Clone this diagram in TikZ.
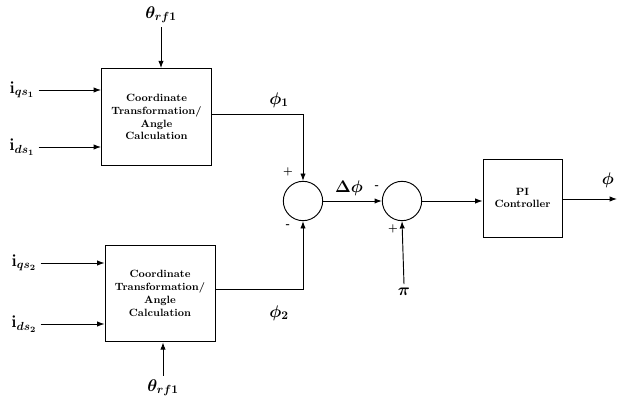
\documentclass[tikz,border=0pt]{standalone}
\usepackage{amsmath}
\usetikzlibrary{arrows.meta}
\begin{document}
\begin{tikzpicture}[x=0.03cm,y=-0.03cm,
  blk/.style={draw,line width=0.8pt,minimum width=3.3cm,minimum height=2.9cm,align=center,font=\small\bfseries,inner sep=1pt},
  pib/.style={draw,line width=0.8pt,minimum width=2.37cm,minimum height=2.34cm,align=center,font=\small\bfseries},
  sumc/.style={draw,circle,line width=0.8pt,minimum size=1.18cm,inner sep=0pt},
  lbl/.style={font=\Large\boldmath},
  sgn/.style={font=\small\bfseries},
  conn/.style={line width=0.8pt,-{Latex[length=2.2mm,width=1.6mm]}},
  wire/.style={line width=0.8pt}]
\useasboundingbox (0,0) rectangle (621,400);
% blocks
\node[blk] (b1) at (156.5,117) {Coordinate\\Transformation/\\Angle\\Calculation};
\node[blk] (b2) at (160,293.5) {Coordinate\\Transformation/\\Angle\\Calculation};
\node[sumc] (s1) at (303,201) {};
\node[sumc] (s2) at (402,201) {};
\node[pib] (pi) at (522.5,198) {PI\\Controller};
% input labels
\node[lbl] (iq1) at (22,90) {$\mathrm{i}_{qs_1}$};
\node[lbl] (id1) at (22,147) {$\mathrm{i}_{ds_1}$};
\node[lbl] (iq2) at (24,263) {$\mathrm{i}_{qs_2}$};
\node[lbl] (id2) at (24,324) {$\mathrm{i}_{ds_2}$};
\node[lbl] (th1) at (161,15) {$\theta_{rf1}$};
\node[lbl] (th2) at (163,388) {$\theta_{rf1}$};
\node[lbl] (pin) at (404,292) {$\pi$};
\coordinate (out) at (617,199);
% input arrows
\draw[conn] (iq1.east) -- (iq1.east -| b1.west);
\draw[conn] (id1.east) -- (id1.east -| b1.west);
\draw[conn] (iq2.east) -- (iq2.east -| b2.west);
\draw[conn] (id2.east) -- (id2.east -| b2.west);
\draw[conn] (th1.south) -- (th1.south |- b1.north);
\draw[conn] (th2.north) -- (th2.north |- b2.south);
% outputs to summer
\draw[conn] (b1.east |- 0,114) -| (s1.north);
\draw[conn] (b2.east |- 0,289) -| (s1.south);
\draw[conn] (s1.east) -- (s2.west);
\draw[conn] (pin.north) -- (s2.south);
\draw[conn] (s2.east) -- (s2.east -| pi.west);
\draw[conn] (pi.east |- out) -- (out);
% signal labels
\node[lbl] at (279,100) {$\phi_1$};
\node[lbl] at (279,313) {$\phi_2$};
\node[lbl] at (349,188) {$\Delta\phi$};
\node[lbl] at (608,180) {$\phi$};
\node[sgn] at (288,172) {+};
\node[sgn] at (288,226) {-};
\node[sgn] at (377,187) {-};
\node[sgn] at (393,229) {+};
\end{tikzpicture}
\end{document}
